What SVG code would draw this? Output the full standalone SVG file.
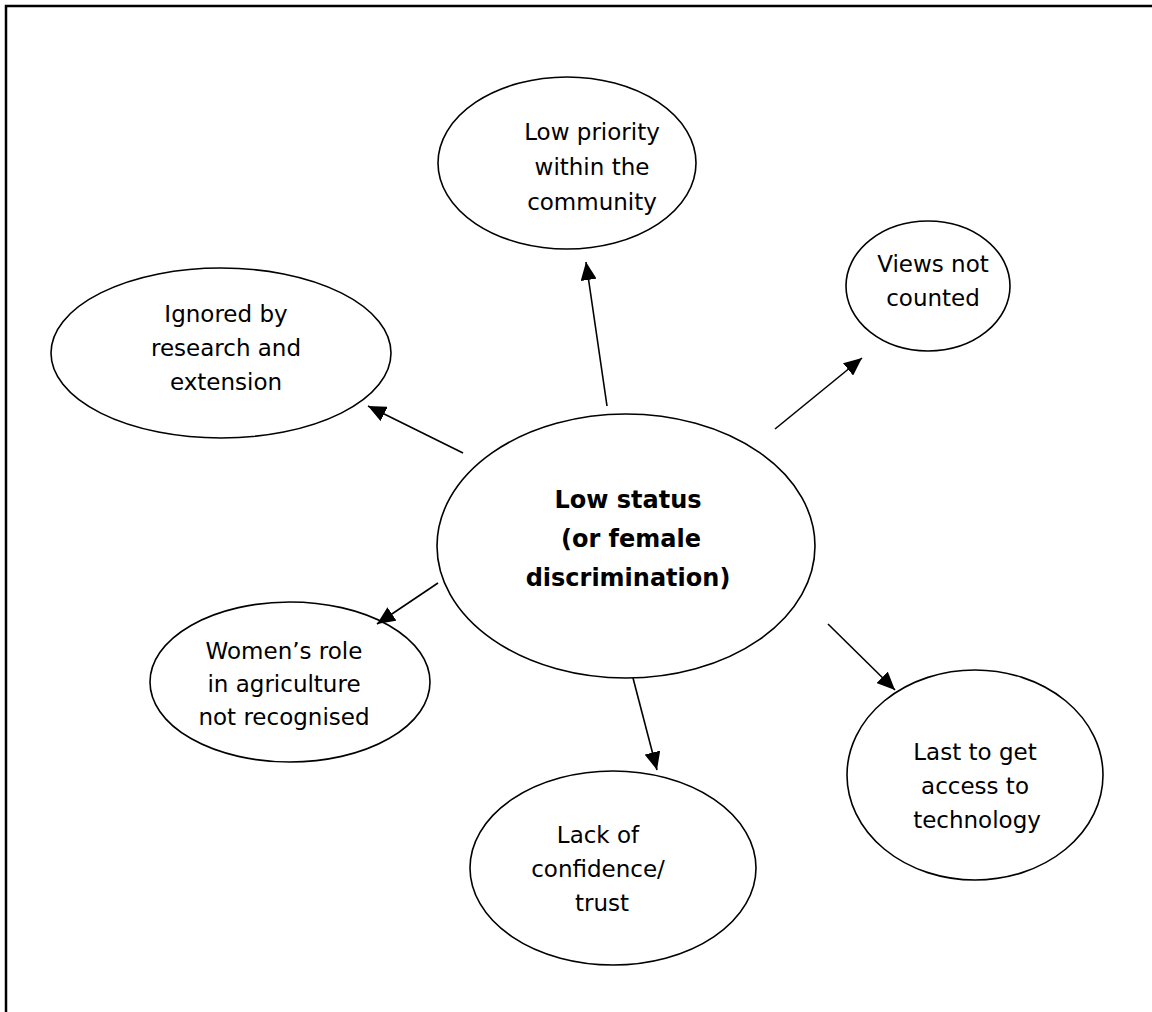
<svg xmlns="http://www.w3.org/2000/svg" width="1152" height="1012" viewBox="0 0 1152 1012">
<style>
.n{fill:#fff;stroke:#000;stroke-width:1.6}
.t{font-family:"DejaVu Sans",sans-serif;font-size:23px;text-anchor:middle;fill:#000}
.b{font-family:"DejaVu Sans",sans-serif;font-size:24px;font-weight:bold;text-anchor:middle;fill:#000}
.c{stroke:#000;stroke-width:1.6;fill:none;marker-end:url(#ah)}
</style>
<defs>
<marker id="ah" viewBox="0 0 18 16" refX="18" refY="8" markerWidth="18" markerHeight="16" markerUnits="userSpaceOnUse" orient="auto">
<path d="M0,0 L18,8 L0,16 z" fill="#000"/>
</marker>
</defs>
<rect width="1152" height="1012" fill="#fff"/>
<path d="M6,1012 V6 H1152" fill="none" stroke="#000" stroke-width="2.5"/>
<g id="center">
<ellipse class="n" cx="626" cy="546" rx="189" ry="132"/>
<text class="b" x="628" y="508">Low status</text>
<text class="b" x="631" y="547">(or female</text>
<text class="b" x="628" y="586">discrimination)</text>
</g>
<g id="priority">
<ellipse class="n" cx="567" cy="163" rx="129" ry="86"/>
<text class="t" x="592" y="140">Low priority</text>
<text class="t" x="592" y="175">within the</text>
<text class="t" x="592" y="210">community</text>
</g>
<g id="views">
<ellipse class="n" cx="928" cy="286" rx="82" ry="65"/>
<text class="t" x="933" y="272">Views not</text>
<text class="t" x="933" y="306">counted</text>
</g>
<g id="ignored">
<ellipse class="n" cx="221" cy="353" rx="170" ry="85"/>
<text class="t" x="226" y="322">Ignored by</text>
<text class="t" x="226" y="356">research and</text>
<text class="t" x="226" y="390">extension</text>
</g>
<g id="women">
<ellipse class="n" cx="290" cy="682" rx="140" ry="80"/>
<text class="t" x="284" y="659">Women’s role</text>
<text class="t" x="284" y="692">in agriculture</text>
<text class="t" x="284" y="725">not recognised</text>
</g>
<g id="lack">
<ellipse class="n" cx="613" cy="868" rx="143" ry="97"/>
<text class="t" x="598" y="843">Lack of</text>
<text class="t" x="598" y="877">confidence/</text>
<text class="t" x="602" y="911">trust</text>
</g>
<g id="last">
<ellipse class="n" cx="975" cy="775" rx="128" ry="105"/>
<text class="t" x="975" y="760">Last to get</text>
<text class="t" x="975" y="794">access to</text>
<text class="t" x="977" y="828">technology</text>
</g>
<g id="connectors">
<line class="c" x1="607" y1="406" x2="586" y2="262"/>
<line class="c" x1="463" y1="453" x2="368" y2="406"/>
<line class="c" x1="775" y1="429" x2="862" y2="358"/>
<line class="c" x1="438" y1="583" x2="377" y2="624"/>
<line class="c" x1="828" y1="624" x2="895" y2="690"/>
<line class="c" x1="633" y1="678" x2="657" y2="770"/>
</g>
</svg>
